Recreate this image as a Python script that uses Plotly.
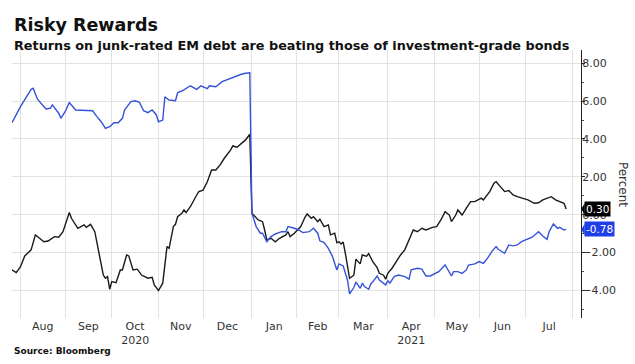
import plotly.graph_objects as go

# ---- data ----
hy_dates = [
    "2020-07-28", "2020-07-30", "2020-08-03", "2020-08-05", "2020-08-10", "2020-08-12",
    "2020-08-14", "2020-08-18", "2020-08-20", "2020-08-25", "2020-08-27", "2020-08-31",
    "2020-09-03", "2020-09-04", "2020-09-09", "2020-09-14", "2020-09-15", "2020-09-17",
    "2020-09-21", "2020-09-23", "2020-09-25", "2020-09-28", "2020-09-29", "2020-09-30",
    "2020-10-01", "2020-10-05", "2020-10-07", "2020-10-08", "2020-10-12", "2020-10-13",
    "2020-10-15", "2020-10-19", "2020-10-21", "2020-10-26", "2020-10-28", "2020-10-29",
    "2020-11-02", "2020-11-04", "2020-11-05", "2020-11-06", "2020-11-09", "2020-11-11",
    "2020-11-12", "2020-11-13", "2020-11-17", "2020-11-18", "2020-11-19", "2020-11-23",
    "2020-11-26", "2020-11-27", "2020-12-01", "2020-12-03", "2020-12-07", "2020-12-09",
    "2020-12-11", "2020-12-15", "2020-12-18", "2020-12-21", "2020-12-23", "2020-12-25",
    "2020-12-29", "2020-12-31",
    "2021-01-01", "2021-01-06", "2021-01-08", "2021-01-11", "2021-01-12", "2021-01-14",
    "2021-01-18", "2021-01-20", "2021-01-25", "2021-01-26", "2021-01-27", "2021-01-29",
    "2021-02-03", "2021-02-05", "2021-02-08", "2021-02-10", "2021-02-11", "2021-02-15",
    "2021-02-16", "2021-02-18", "2021-02-22", "2021-02-23", "2021-02-25", "2021-02-26",
    "2021-03-01", "2021-03-02", "2021-03-03", "2021-03-04", "2021-03-05", "2021-03-08",
    "2021-03-10", "2021-03-11", "2021-03-15", "2021-03-16", "2021-03-18", "2021-03-19",
    "2021-03-23", "2021-03-25", "2021-03-26", "2021-03-30", "2021-03-31",
    "2021-04-01", "2021-04-05", "2021-04-07", "2021-04-09", "2021-04-13", "2021-04-15",
    "2021-04-19", "2021-04-21", "2021-04-23", "2021-04-27", "2021-04-30",
    "2021-05-04", "2021-05-06", "2021-05-10", "2021-05-12", "2021-05-13", "2021-05-17",
    "2021-05-18", "2021-05-20", "2021-05-24", "2021-05-26", "2021-05-28",
    "2021-06-02", "2021-06-03", "2021-06-08", "2021-06-10", "2021-06-11", "2021-06-15",
    "2021-06-17", "2021-06-21", "2021-06-23", "2021-06-25", "2021-06-29",
    "2021-07-02", "2021-07-07", "2021-07-09", "2021-07-13", "2021-07-15", "2021-07-19",
    "2021-07-21", "2021-07-23", "2021-07-27", "2021-07-28",
]
hy_values = [
    -2.92, -3.06, -2.75, -2.18, -1.86, -1.07,
    -1.25, -1.43, -1.39, -1.16, -1.19, -0.90,
    0.11, -0.19, -0.72, -0.54, -0.67, -0.51,
    -0.90, -2.13, -3.19, -3.36, -3.27, -3.94,
    -3.54, -3.59, -2.92, -2.92, -2.13, -2.18,
    -2.92, -2.88, -3.19, -3.36, -3.31, -3.71,
    -4.01, -3.62, -2.57, -1.69, -1.78, -0.63,
    -0.51, -0.11, 0.07, 0.25, 0.11, 0.42,
    1.04, 1.22, 1.30, 1.74, 2.36, 2.36,
    2.63, 2.98, 3.42, 3.63, 3.56, 3.77,
    3.95, 4.25,
    0.07, -0.28, -0.37, -0.81, -1.34, -1.25,
    -1.43, -1.25, -1.07, -0.90, -1.16, -0.98,
    -0.63, -0.14, 0.04, -0.19, -0.11, -0.37,
    -0.24, -0.63, -0.54, -1.07, -0.98, -1.48,
    -1.43, -1.55, -1.45, -2.04, -2.75, -3.36,
    -3.20, -2.35, -2.60, -2.13, -2.20, -2.06,
    -2.50, -2.80, -3.10, -3.20, -3.41,
    -3.10, -2.83, -2.48, -2.13, -1.86, -1.34,
    -0.81, -0.90, -0.72, -0.81, -0.67,
    -0.63, -0.28, 0.16, -0.02, -0.37, -0.02,
    0.25, -0.02, 0.34, 0.69, 0.69,
    0.87, 0.78, 1.22, 1.66, 1.74, 1.48,
    1.22, 1.27, 1.04, 0.95, 0.87,
    0.78, 0.60, 0.63, 0.78, 0.87, 0.95,
    0.78, 0.69, 0.60, 0.30,
]

ig_dates = [
    "2020-07-28", "2020-08-03", "2020-08-10", "2020-08-11", "2020-08-13", "2020-08-18",
    "2020-08-19", "2020-08-21", "2020-08-24", "2020-08-27", "2020-08-28", "2020-09-01",
    "2020-09-03", "2020-09-08", "2020-09-14", "2020-09-18", "2020-09-22", "2020-09-24",
    "2020-09-28", "2020-09-30", "2020-10-02", "2020-10-06", "2020-10-08", "2020-10-09",
    "2020-10-14", "2020-10-16", "2020-10-20", "2020-10-22", "2020-10-26", "2020-10-28",
    "2020-10-30", "2020-11-02", "2020-11-04", "2020-11-05", "2020-11-09", "2020-11-12",
    "2020-11-13", "2020-11-18", "2020-11-23", "2020-11-26", "2020-11-30", "2020-12-03",
    "2020-12-04", "2020-12-09", "2020-12-14", "2020-12-18", "2020-12-23", "2020-12-25",
    "2020-12-29", "2020-12-31",
    "2021-01-01", "2021-01-05", "2021-01-07", "2021-01-08", "2021-01-12", "2021-01-14",
    "2021-01-18", "2021-01-21", "2021-01-25", "2021-01-26", "2021-01-29",
    "2021-02-02", "2021-02-04", "2021-02-09", "2021-02-11", "2021-02-15", "2021-02-16",
    "2021-02-18", "2021-02-22", "2021-02-23", "2021-02-24", "2021-02-26",
    "2021-03-01", "2021-03-03", "2021-03-04", "2021-03-05", "2021-03-08", "2021-03-10",
    "2021-03-11", "2021-03-15", "2021-03-16", "2021-03-17", "2021-03-19", "2021-03-22",
    "2021-03-23", "2021-03-24", "2021-03-25", "2021-03-26", "2021-03-30", "2021-03-31",
    "2021-04-01", "2021-04-02", "2021-04-06", "2021-04-08", "2021-04-13", "2021-04-15",
    "2021-04-16", "2021-04-21", "2021-04-23", "2021-04-27", "2021-04-29",
    "2021-05-03", "2021-05-05", "2021-05-10", "2021-05-11", "2021-05-13", "2021-05-14",
    "2021-05-18", "2021-05-20", "2021-05-24", "2021-05-25", "2021-05-28",
    "2021-06-01", "2021-06-03", "2021-06-07", "2021-06-09", "2021-06-11", "2021-06-14",
    "2021-06-17", "2021-06-21", "2021-06-23", "2021-06-25", "2021-06-29",
    "2021-07-01", "2021-07-06", "2021-07-09", "2021-07-13", "2021-07-15", "2021-07-16",
    "2021-07-20", "2021-07-22", "2021-07-23", "2021-07-27", "2021-07-28",
]
ig_values = [
    4.86, 5.71, 6.62, 6.68, 6.10, 5.71,
    5.58, 5.62, 5.80, 5.36, 5.09, 5.44,
    5.92, 5.53, 5.49, 5.49, 5.18, 4.91,
    4.56, 4.65, 4.86, 4.86, 5.09, 5.53,
    5.97, 6.02, 5.94, 5.49, 5.39, 5.53,
    5.27, 4.91, 5.00, 6.23, 6.06, 6.02,
    6.44, 6.59, 6.81, 6.62, 6.81, 6.66,
    6.81, 6.76, 7.03, 7.21, 7.36, 7.42,
    7.47, 7.50,
    0.09, -0.63, -0.98, -0.98, -1.43, -1.16,
    -1.02, -0.90, -0.90, -0.63, -0.72,
    -0.81, -0.95, -0.90, -0.72, -0.98, -1.38,
    -1.48, -1.78, -2.04, -2.22, -2.92,
    -2.60, -2.71, -3.10, -3.45, -4.19, -3.85,
    -3.56, -3.89, -3.62, -3.80, -3.94, -3.66,
    -3.54, -3.36, -3.24, -3.45, -3.62, -3.71,
    -3.49, -3.62, -3.27, -3.19, -3.27, -3.41,
    -2.92, -2.83, -2.88, -3.24, -3.24,
    -3.13, -3.01, -2.66, -2.88, -3.24, -3.01,
    -3.01, -3.10, -2.92, -2.66, -2.60,
    -2.48, -2.57, -2.30, -1.95, -1.69, -1.83,
    -2.04, -1.60, -1.65, -1.60, -1.43,
    -1.34, -1.19, -0.90, -1.13, -1.30, -0.90,
    -0.49, -0.72, -0.67, -0.81, -0.78,
]

month_starts = ["2020-08-03", "2020-09-01", "2020-10-01", "2020-11-02", "2020-12-01",
                "2021-01-01", "2021-02-01", "2021-03-01", "2021-04-01", "2021-05-03",
                "2021-06-01", "2021-07-01", "2021-08-02"]
month_label_dates = ["2020-08-17 12:00", "2020-09-16", "2020-10-16", "2020-11-16 12:00",
                     "2020-12-16 12:00", "2021-01-15 12:00", "2021-02-15", "2021-03-16 12:00",
                     "2021-04-16", "2021-05-17 12:00", "2021-06-16", "2021-07-16"]
month_labels = ["Aug", "Sep", "Oct<br>2020", "Nov", "Dec", "Jan", "Feb", "Mar",
                "Apr<br>2021", "May", "Jun", "Jul"]
y_ticks = [-4, -2, 0, 2, 4, 6, 8]

HY_COLOR = "#1a1a1a"
IG_COLOR = "#3553d8"
GRID = "#e2e2e2"
FONT = "DejaVu Sans"
X_RANGE = ["2020-07-28", "2021-08-06"]
BREAKS = [dict(bounds=["sat", "mon"])]

fig = go.Figure()
fig.add_trace(go.Scatter(x=hy_dates, y=hy_values, mode="lines", name="Junk-rated",
                         line=dict(color=HY_COLOR, width=1.4), showlegend=False))
fig.add_trace(go.Scatter(x=ig_dates, y=ig_values, mode="lines", name="Investment grade",
                         line=dict(color=IG_COLOR, width=1.4), showlegend=False))
# invisible carrier trace so the label axis is drawn
fig.add_trace(go.Scatter(x=hy_dates, y=hy_values, mode="lines", xaxis="x2",
                         line=dict(width=0), opacity=0, hoverinfo="skip", showlegend=False))

fig.update_layout(
    width=635, height=364,
    margin=dict(l=12, r=54, t=50, b=46),
    paper_bgcolor="white", plot_bgcolor="white",
    font=dict(family=FONT, size=11, color="#333333"),
    xaxis=dict(
        type="date", rangebreaks=BREAKS, range=X_RANGE,
        tickmode="array", tickvals=month_starts, ticktext=[""] * len(month_starts),
        ticks="", showgrid=True, gridcolor=GRID, gridwidth=1,
        showline=False, zeroline=False,
    ),
    xaxis2=dict(
        type="date", rangebreaks=BREAKS, range=X_RANGE, overlaying="x", matches="x",
        side="bottom", anchor="y",
        tickmode="array", tickvals=month_label_dates, ticktext=month_labels,
        ticks="", showgrid=False, showline=False, zeroline=False,
        tickfont=dict(family=FONT, size=11, color="#333333"),
    ),
    yaxis=dict(
        side="right", range=[-5.46, 8.70],
        tickmode="array", tickvals=y_ticks, tickformat=".2f",
        ticks="outside", ticklen=3, tickcolor="#222222",
        ticklabelstandoff=-5,
        showline=True, linecolor="#222222", linewidth=1,
        showgrid=True, gridcolor=GRID, zeroline=False,
        tickfont=dict(family=FONT, size=11, color="#333333"),
        minor=dict(dtick=1, ticks="outside", ticklen=2, tickcolor="#444444", showgrid=False),
    ),
)

annotations = [
    dict(text="<b>Risky Rewards</b>", x=0, y=1.093, xref="paper", yref="paper",
         xanchor="left", yanchor="middle", showarrow=False,
         font=dict(family=FONT, size=17.5, color="#111111")),
    dict(text="<b>Returns on junk-rated EM debt are beating those of investment-grade bonds</b>",
         x=0, y=1.015, xref="paper", yref="paper", xanchor="left", yanchor="middle",
         showarrow=False, font=dict(family=FONT, size=12.8, color="#111111")),
    dict(text="<b>Source: Bloomberg</b>", x=0, y=-0.123, xref="paper", yref="paper",
         xanchor="left", yanchor="middle", showarrow=False,
         font=dict(family=FONT, size=9, color="#111111")),
    dict(text="Percent", x=1.074, y=0.5, xref="paper", yref="paper", textangle=90,
         xanchor="center", yanchor="middle", showarrow=False,
         font=dict(family=FONT, size=12, color="#333333")),
    dict(text=f"{hy_values[-1]:.2f}", x=1.006, y=hy_values[-1], xref="paper", yref="y",
         xanchor="left", yanchor="middle", showarrow=False, bgcolor="#000000",
         borderpad=1, font=dict(family=FONT, size=10.5, color="white")),
    dict(text=f"{ig_values[-1]:.2f}", x=1.006, y=ig_values[-1], xref="paper", yref="y",
         xanchor="left", yanchor="middle", showarrow=False, bgcolor="#1f3ee6",
         borderpad=1, font=dict(family=FONT, size=10.5, color="white")),
]
fig.update_layout(annotations=annotations)

shapes = []
for val, col in [(hy_values[-1], "#000000"), (ig_values[-1], "#1f3ee6")]:
    shapes.append(dict(type="path", xref="paper", yref="y",
                       path=f"M 1.0005 {val} L 1.0065 {val + 0.3} L 1.0065 {val - 0.3} Z",
                       fillcolor=col, line=dict(width=0)))
fig.update_layout(shapes=shapes)

fig.write_html("out.html", config={"displayModeBar": False},
               post_script="document.body.style.margin='0';")
